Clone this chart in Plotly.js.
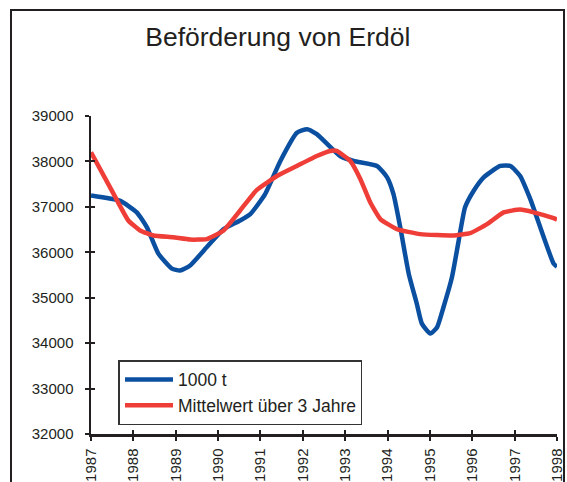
<!DOCTYPE html>
<html>
<head>
<meta charset="utf-8">
<script src="https://cdn.plot.ly/plotly-3.0.1.min.js"></script>
<style>
  html, body { margin: 0; padding: 0; background: #ffffff; overflow: hidden; }
  #wrap { position: relative; width: 567px; height: 482px; }
  #chart { position: absolute; left: 0; top: 0; width: 567px; height: 482px; }
  #frame { position: absolute; left: 10px; top: 9px; width: 555px; height: 520px;
           box-sizing: border-box; border: 2.5px solid #231f20; border-bottom: none;
           pointer-events: none; }
</style>
</head>
<body>
<div id="wrap">
  <div id="chart"></div>
  <div id="frame"></div>
</div>
<script>
// ---- data ----
const tickYears = [1987, 1988, 1989, 1990, 1991, 1992, 1993, 1994, 1995, 1996, 1997, 1998];
const tickYearLabels = ["1987", "1988", "1989", "1990", "1991", "1992", "1993", "1994", "1995", "1996", "1997", "1998"];
const yTicks = [32000, 33000, 34000, 35000, 36000, 37000, 38000, 39000];

const seriesNames = ["1000 t", "Mittelwert über 3 Jahre"];

const blueYears = [1987.00, 1987.69, 1988.08, 1988.32, 1988.59, 1988.91, 1989.10, 1989.34, 1989.73,
  1990.13, 1990.52, 1990.76, 1991.11, 1991.47, 1991.86, 1992.10, 1992.33, 1992.88, 1993.20,
  1993.75, 1993.99, 1994.14, 1994.30, 1994.50, 1994.69, 1994.81, 1995.01, 1995.17, 1995.32,
  1995.52, 1995.68, 1995.83, 1996.03, 1996.27, 1996.66, 1996.90, 1997.13, 1997.37, 1997.92, 1998.00];
const blueValues = [37250, 37130, 36880, 36550, 35970, 35640, 35600, 35710, 36110,
  36510, 36700, 36840, 37280, 38010, 38630, 38710, 38600, 38120, 38010,
  37900, 37650, 37280, 36550, 35530, 34870, 34430, 34210, 34350, 34790,
  35450, 36260, 36990, 37350, 37650, 37900, 37900, 37680, 37170, 35750, 35680];

const redYears = [1987.00, 1987.45, 1987.88, 1988.16, 1988.47, 1988.94, 1989.34, 1989.73, 1990.13,
  1990.52, 1990.91, 1991.39, 1991.86, 1992.33, 1992.65, 1992.80, 1993.12, 1993.36, 1993.59,
  1993.83, 1994.22, 1994.77, 1995.56, 1995.95, 1996.35, 1996.74, 1997.13, 1997.45, 1997.92, 1998.00];
const redValues = [38200, 37430, 36700, 36480, 36370, 36330, 36280, 36290, 36480,
  36920, 37370, 37680, 37900, 38120, 38230, 38230, 38010, 37610, 37100,
  36730, 36510, 36400, 36370, 36420, 36620, 36880, 36940, 36880, 36750, 36720];

// ---- styling ----
const FONT = '"Liberation Sans", Arial, Helvetica, sans-serif';
const INK = '#231f20';
const BLUE = '#0b4fa1';
const RED = '#ef3e38';

const traces = [
  { x: blueYears, y: blueValues, name: seriesNames[0], type: 'scatter', mode: 'lines',
    line: { color: BLUE, width: 4.5, shape: 'spline', smoothing: 0.5 }, hoverinfo: 'skip' },
  { x: redYears, y: redValues, name: seriesNames[1], type: 'scatter', mode: 'lines',
    line: { color: RED, width: 4.5, shape: 'spline', smoothing: 0.4 }, hoverinfo: 'skip' },
  // empty trace so the overlay axes (inner half of the crossing ticks) get drawn
  { x: [], y: [], xaxis: 'x2', yaxis: 'y2', showlegend: false, hoverinfo: 'skip', type: 'scatter', mode: 'lines' }
];

const layout = {
  width: 567, height: 482,
  margin: { l: 91, r: 10, t: 116, b: 48, pad: 0 },
  paper_bgcolor: '#ffffff', plot_bgcolor: '#ffffff',
  font: { family: FONT, color: INK },
  title: {
    text: 'Beförderung von Erdöl',
    font: { family: FONT, size: 26.5, color: INK },
    xref: 'container', x: 0.49, xanchor: 'center',
    yref: 'container', y: 1 - 37 / 482, yanchor: 'middle'
  },
  showlegend: true,
  legend: {
    x: 0.059, y: 0.232, xanchor: 'left', yanchor: 'top',
    bgcolor: '#ffffff', bordercolor: '#333333', borderwidth: 1.5,
    font: { family: FONT, size: 17.5, color: INK },
    itemwidth: 48,
    tracegroupgap: 0
  },
  xaxis: {
    range: [1987, 1998], tickmode: 'array', tickvals: tickYears, ticktext: tickYearLabels,
    tickangle: -90, ticks: 'outside', ticklen: 4, tickwidth: 2, tickcolor: INK,
    showline: true, linewidth: 2.5, linecolor: INK, showgrid: false, zeroline: false,
    tickfont: { family: FONT, size: 15, color: INK }, ticklabelstandoff: 2, fixedrange: true
  },
  yaxis: {
    range: [32000, 39000], tickmode: 'array', tickvals: yTicks, ticktext: yTicks.map(String),
    ticks: 'outside', ticklen: 4, tickwidth: 2, tickcolor: INK,
    showline: true, linewidth: 2.5, linecolor: INK, showgrid: false, zeroline: false,
    tickfont: { family: FONT, size: 15, color: INK }, ticklabelstandoff: 8, fixedrange: true
  },
  xaxis2: {
    overlaying: 'x', anchor: 'y2', side: 'bottom', range: [1987, 1998],
    tickmode: 'array', tickvals: tickYears, ticks: 'inside', ticklen: 4, tickwidth: 2, tickcolor: INK,
    showticklabels: false, showgrid: false, zeroline: false, showline: false, fixedrange: true
  },
  yaxis2: {
    overlaying: 'y', anchor: 'x2', side: 'left', range: [32000, 39000],
    tickmode: 'array', tickvals: yTicks, ticks: 'inside', ticklen: 4, tickwidth: 2, tickcolor: INK,
    showticklabels: false, showgrid: false, zeroline: false, showline: false, fixedrange: true
  }
};

Plotly.newPlot('chart', traces, layout, { staticPlot: true, displayModeBar: false });
</script>
</body>
</html>
